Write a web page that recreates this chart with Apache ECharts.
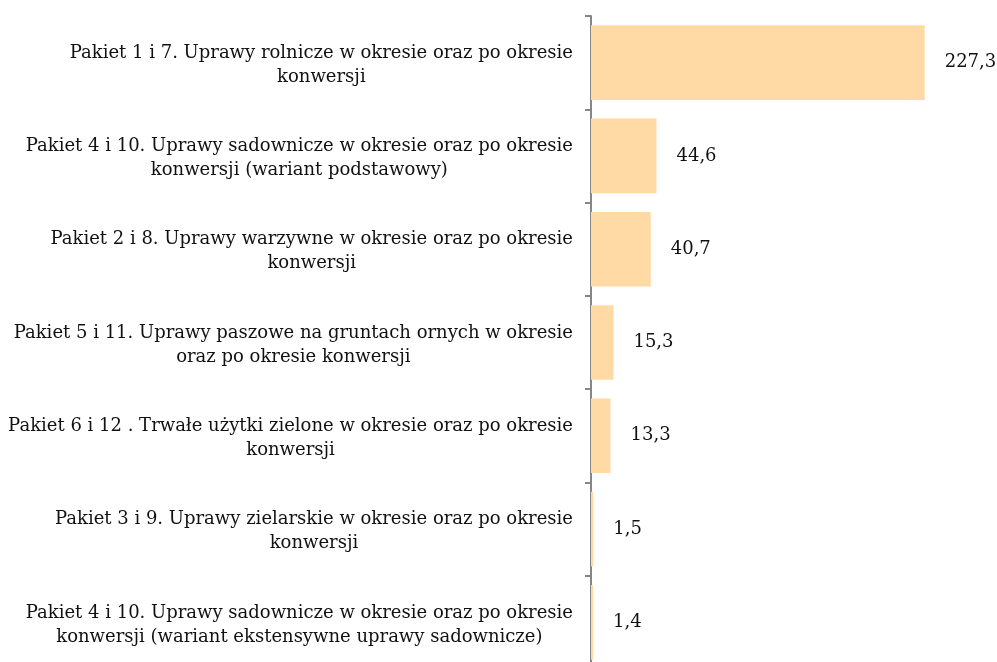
<!DOCTYPE html>
<html>
<head>
<meta charset="utf-8">
<script src="https://cdn.jsdelivr.net/npm/echarts@6/dist/echarts.min.js"></script>
<style>
  html, body { margin: 0; padding: 0; background: #fff; overflow: hidden; }
  #chart { width: 997px; height: 670px; }
</style>
</head>
<body>
<div id="chart"></div>
<script>
// category labels, each as the two lines shown in the picture
var categories = [
  ["Pakiet 1 i 7. Uprawy rolnicze w okresie oraz po okresie", "konwersji"],
  ["Pakiet 4 i 10. Uprawy sadownicze w okresie oraz po okresie", "konwersji (wariant podstawowy)"],
  ["Pakiet 2 i 8. Uprawy warzywne w okresie oraz po okresie", "konwersji"],
  ["Pakiet 5 i 11. Uprawy paszowe na gruntach ornych w okresie", "oraz po okresie konwersji"],
  ["Pakiet 6 i 12 . Trwałe użytki zielone w okresie oraz po okresie", "konwersji"],
  ["Pakiet 3 i 9. Uprawy zielarskie w okresie oraz po okresie", "konwersji"],
  ["Pakiet 4 i 10. Uprawy sadownicze w okresie oraz po okresie", "konwersji (wariant ekstensywne uprawy sadownicze)"]
];
var values = [227.3, 44.6, 40.7, 15.3, 13.3, 1.5, 1.4];

var font = "DejaVu Serif";

// the plot runs a little past the bottom edge of the window, as in the original
var chart = echarts.init(document.getElementById("chart"));
var option = {
  animation: false,
  grid: { left: 591, top: 16, width: 367, bottom: 1 },
  xAxis: {
    type: "value",
    min: 0,
    max: 250,
    show: false
  },
  yAxis: {
    type: "category",
    inverse: true,
    data: categories.map(function (c) { return c.join("\n"); }),
    axisLine: { show: true, lineStyle: { color: "#868686", width: 2 } },
    axisTick: { show: true, length: 6, lineStyle: { color: "#868686", width: 2 } },
    axisLabel: {
      margin: 18,
      align: "right",
      padding: [5, 0, 0, 0],
      formatter: function (v) {
        return v.split("\n").map(function (l) { return "{a|" + l + "}"; }).join("\n");
      },
      rich: {
        a: { align: "center", fontFamily: font, fontSize: 18, lineHeight: 24, color: "#111" }
      }
    }
  },
  series: [
    {
      type: "bar",
      data: values,
      barCategoryGap: "20%",
      itemStyle: { color: "#FFDAA5" },
      label: {
        show: true,
        position: "right",
        distance: 20,
        fontFamily: font,
        fontSize: 18,
        color: "#111",
        formatter: function (p) { return p.value.toFixed(1).replace(".", ","); }
      }
    }
  ]
};
chart.setOption(option);
</script>
</body>
</html>
